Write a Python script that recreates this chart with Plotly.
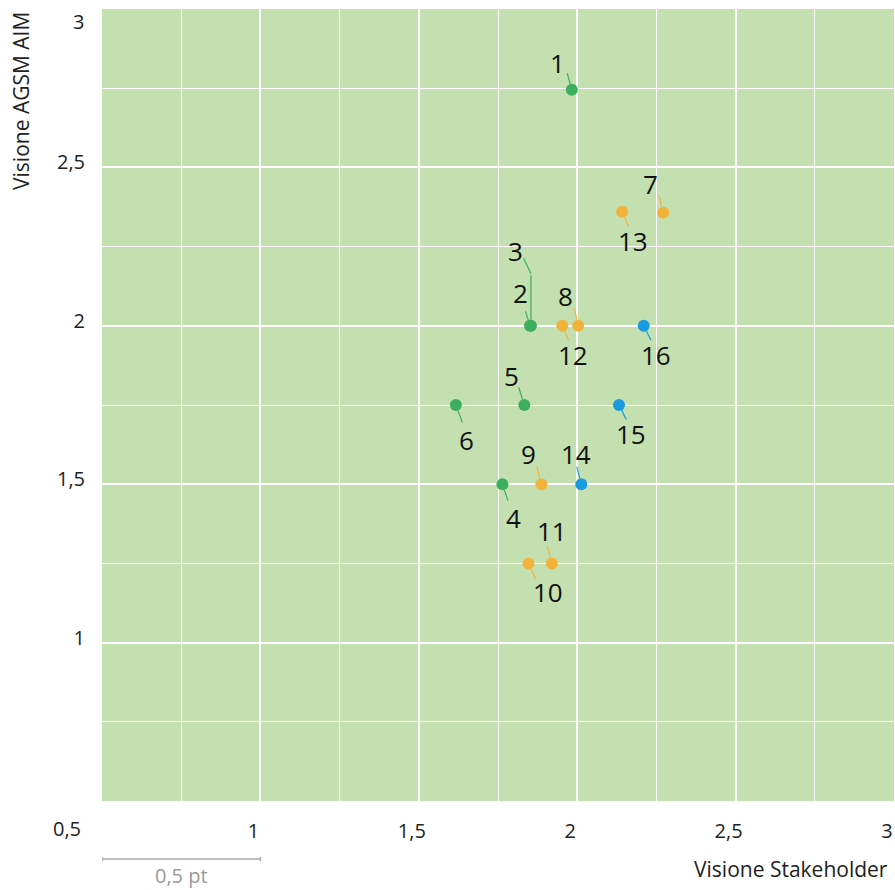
import plotly.graph_objects as go

# ---------------- data ----------------
ids = [str(i) for i in range(1, 17)]
stakeholder = [1.983, 1.851, 1.854, 1.764, 1.833, 1.617, 2.272, 2.003,
               1.887, 1.846, 1.920, 1.953, 2.142, 2.013, 2.132, 2.210]
agsm = [2.745, 2.0, 2.0, 1.5, 1.75, 1.75, 2.357, 2.0,
        1.5, 1.25, 1.25, 2.0, 2.36, 1.5, 1.75, 2.0]
groups = ["A"] * 6 + ["B"] * 7 + ["C"] * 3

tick_vals = [0.5, 1, 1.5, 2, 2.5, 3]
x_tick_text = ["", "1", "1,5", "2", "2,5", "3"]
y_tick_text = ["", "1", "1,5", "2", "2,5", ""]
y_top_label = "3"
corner_label = "0,5"
scale_start = 0.5
scale_len = 0.5
scale_label = "0,5 pt"
x_title = "Visione Stakeholder"
y_title = "Visione AGSM AIM"

# ---------------- styles ----------------
colors = {"A": "#3DAE5E", "B": "#F1B33B", "C": "#1A9BE0"}
FONT = "Open Sans"
# label text offsets (px, right / down) and leader far-end offsets
label_off = {
    "1": (-14, -27), "2": (-10, -33), "3": (-15, -75), "4": (11, 34),
    "5": (-13, -29), "6": (11, 35), "7": (-13, -29), "8": (-13, -30),
    "9": (-13, -30), "10": (20, 29), "11": (0, -32), "12": (11, 29),
    "13": (11, 29), "14": (-5, -30), "15": (12, 29), "16": (12, 29),
}
leader_off = {
    "1": (-5, -18), "2": (-5, -16), "4": (6, 18), "5": (-6, -19),
    "6": (7, 19), "7": (-5, -19), "8": (-4, -19), "9": (-5, -19),
    "10": (8, 17), "11": (-5, -19), "12": (7, 16), "13": (7, 16),
    "14": (-5, -19), "15": (8, 16), "16": (8, 16),
}

fig = go.Figure()
for g in ["A", "B", "C"]:
    xs = [x for x, gg in zip(stakeholder, groups) if gg == g]
    ys = [y for y, gg in zip(agsm, groups) if gg == g]
    fig.add_trace(go.Scatter(
        x=xs, y=ys, mode="markers",
        marker=dict(size=12, color=colors[g], line=dict(width=0)),
        hoverinfo="skip", showlegend=False,
    ))

annotations = []
for lab, x, y, g in zip(ids, stakeholder, agsm, groups):
    c = colors[g]
    dx, dy = label_off[lab]
    annotations.append(dict(
        x=x, y=y, xref="x", yref="y", text=lab, showarrow=False,
        xshift=dx, yshift=-dy, xanchor="center", yanchor="middle",
        font=dict(family=FONT, size=26, color="#111111"),
    ))
    if lab in leader_off:
        lx, ly = leader_off[lab]
        annotations.append(dict(
            x=x, y=y, xref="x", yref="y", text="", showarrow=True,
            ax=lx, ay=ly, arrowhead=0, arrowwidth=1.2, arrowcolor=c,
            standoff=6, startstandoff=0,
        ))
    else:
        # bent leader
        annotations.append(dict(
            x=x, y=y, xref="x", yref="y", text="", showarrow=True,
            ax=0, ay=-52, arrowhead=0, arrowwidth=1.2, arrowcolor=c,
            standoff=6, startstandoff=0,
        ))
        annotations.append(dict(
            x=x, y=y, xref="x", yref="y", text="", showarrow=True,
            yshift=52, ax=-8, ay=-17, arrowhead=0, arrowwidth=1.2,
            arrowcolor=c, standoff=0, startstandoff=0,
        ))

tick_font = dict(family=FONT, size=20, color="#222222")
annotations += [
    dict(x=scale_start, y=0, xref="x", yref="paper", text=corner_label,
         showarrow=False, xshift=-35, yshift=-27, xanchor="center",
         yanchor="middle", font=tick_font),
    dict(x=0, y=tick_vals[-1], xref="paper", yref="y", text=y_top_label,
         showarrow=False, xshift=-16, yshift=-12, xanchor="right",
         yanchor="middle", font=tick_font),
    dict(x=1, y=0, xref="paper", yref="paper", text=x_title, showarrow=False,
         xshift=-4, yshift=-68, xanchor="right", yanchor="middle",
         font=dict(family=FONT, size=21, color="#222222")),
    dict(x=0, y=1, xref="paper", yref="paper", text=y_title, showarrow=False,
         textangle=-90, xshift=-81, yshift=-1, xanchor="center",
         yanchor="top", font=dict(family=FONT, size=21, color="#222222")),
    dict(x=scale_start + scale_len / 2, y=0, xref="x", yref="paper",
         text=scale_label, showarrow=False, yshift=-74, xanchor="center",
         yanchor="middle", font=dict(family=FONT, size=20, color="#9a9a9a")),
]

shapes = [
    dict(type="line", xref="x", yref="paper", yanchor=0, ysizemode="pixel",
         x0=scale_start, x1=scale_start + scale_len, y0=-58, y1=-58,
         line=dict(color="#aaaaaa", width=1.5)),
    dict(type="line", xref="x", yref="paper", yanchor=0, ysizemode="pixel",
         x0=scale_start, x1=scale_start, y0=-60, y1=-56,
         line=dict(color="#aaaaaa", width=1.5)),
    dict(type="line", xref="x", yref="paper", yanchor=0, ysizemode="pixel",
         x0=scale_start + scale_len, x1=scale_start + scale_len, y0=-60, y1=-56,
         line=dict(color="#aaaaaa", width=1.5)),
]

axis_common = dict(
    range=[0.5, 3], tickvals=tick_vals,
    showgrid=True, gridcolor="white", gridwidth=2,
    minor=dict(dtick=0.25, tick0=0.5, showgrid=True, gridcolor="white", gridwidth=1),
    zeroline=False, showline=False, ticks="", tickfont=tick_font,
    fixedrange=True, ticklabeloverflow="allow", automargin=False,
)

fig.update_layout(
    width=895, height=890,
    margin=dict(l=102, r=1, t=9, b=89, autoexpand=False),
    paper_bgcolor="white", plot_bgcolor="#C5E0B0",
    xaxis=dict(**axis_common, ticktext=x_tick_text,
               ticklabelshift=-7, ticklabelstandoff=16),
    yaxis=dict(**axis_common, ticktext=y_tick_text,
               ticklabelshift=-5, ticklabelstandoff=16),
    annotations=annotations, shapes=shapes,
    font=dict(family=FONT),
    hovermode=False,
)

# remove the default 8px page margin so the figure fills the window exactly
fig.write_html(
    "out.html",
    config={"displayModeBar": False, "staticPlot": True},
    post_script="document.body.style.margin='0';"
                "document.documentElement.style.overflow='hidden';",
)
